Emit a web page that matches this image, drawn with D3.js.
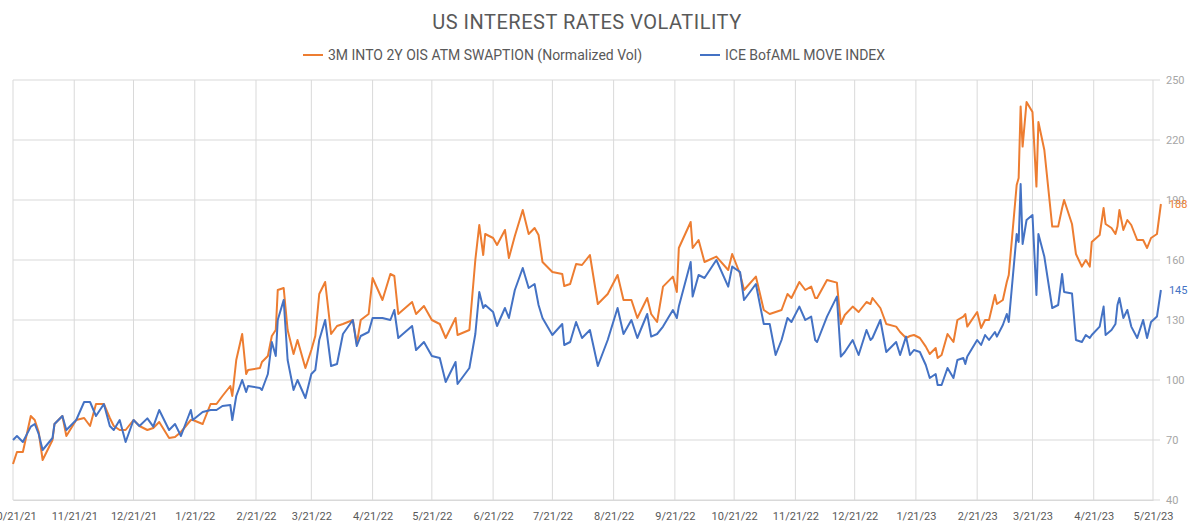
<!DOCTYPE html>
<html lang="en">
<head>
<meta charset="UTF-8" />
<title>US Interest Rates Volatility</title>
<style>
  body { margin: 0; background: #fff; }
  text { font-family: Roboto, "Noto Sans", sans-serif; }
</style>
</head>
<body>
<svg width="1200" height="528"></svg>
<script src="https://cdn.jsdelivr.net/npm/d3@7"></script>
<script>
// days since 10/21/21
const startDate = new Date(2021, 9, 21);
const dayOffsets = [0,2,5,9,11,13,15,20,21,25,27,32,36,39,42,46,49,51,54,57,61,64,68,71,74,79,82,85,90,91,96,100,103,106,110,111,113,116,118,119,125,126,129,131,133,134,137,139,142,144,148,151,153,155,158,161,164,167,172,174,176,180,182,187,191,193,195,
202,204,208,212,216,219,224,225,231,234,236,238,239,243,245,249,251,254,258,261,264,266,268,273,278,279,282,285,288,292,296,301,306,309,313,316,321,323,326,329,334,336,337,343,344,347,350,356,362,364,368,370,376,380,383,386,389,392,394,398,
401,404,406,407,412,417,419,421,425,428,432,434,435,439,442,447,449,452,454,456,459,462,464,467,468,470,473,476,478,481,482,483,488,490,492,494,497,498,501,503,504,508,509,510,511,513,516,518,519,522,526,529,531,532,536,538,541,543,545,546,550,552,553,556,558,559,560,562,564,566,569,572,574,576,579,581];
const swaptionVol = [58,64,64,82,80,74,60,70,78,82,72,80,81,77,88,88,81,77,75,75,80,77,75,76,79,71,71.5,74,80,80,78,88,88,92,97,92,110,123,103,105,106,109,112,122,125,145,146,125,113,120,106,115,122,143,149,123,127,128,130,118,130,133,151,140,153,152,133,
139,133,137,130,128,121,131,122.5,125,160,177.5,162.5,173,171,167.5,175,161,172,185,173,176,172.5,159,154,153,147,148,158,157.5,162.5,138,143,152.5,140,140,131,141,133,129,146.7,151.7,144,166,179,166,170,159,161.7,155,163,153,145,151.7,135,133,134,135,143,141,149,
145,146.7,141,141,150,148.7,128,132.5,136.7,134,139,138,141,136,128,126.7,124,121,122,122.5,121,116.7,113,116,111,112.5,123,119,130,131.7,133,126.7,134,126,130,130,142.5,138,140,149,152.5,197.5,201,236.7,216.7,239,234,196.7,229,215,176.7,176.7,186,190,178,163,156.7,160,156.7,169,172.5,186,178,176,173,176.7,185,175,180,177.5,170,170,166,171,173,188];
const moveIndex = [70,72,69,76.7,78,73,65,71,78,82,75,80,89,89,82,88,77,75,80,69,80,77,80.8,76.7,85,75,78,72,85,80,84,85,85,87,87.5,80,92,100,94,97,96,95,103,119,112,130,140,110,95,100,91,103,105,120,130,107,108,123,130,117,122,124,131,131,130,135,121,
127,115,119,112,111,99,109,98,106,123,144,136,137.5,134,127,136,131,145,156,146,148,137.5,131,122.5,128,117.5,119,129,121,125,107,120,136,123,130,121,133,121.7,123,126.7,135,131,136.7,159,141.7,152.5,151,160,146.7,156.7,154,140,148,128,128,112.5,120,131,129,136.7,
130,131.7,120,119,131.7,141.7,111.7,114,120,112.5,125,120,121,130,114,119,112.5,121.7,112.5,115,114,107.5,101,103,97.5,97.5,106,101,110,111,108,111.7,120,117.5,122.5,120,124,121.7,127.5,133,129,173,169,198,168,180,182.5,142.5,173,161.7,136,137.5,153,144,143.3,120,119,122.5,121,122.5,126.7,136.7,122.5,125,128,137.5,141,131,135,126.7,121,130,121,129,131.7,145];
const seriesNames = ["3M INTO 2Y OIS ATM SWAPTION (Normalized Vol)", "ICE BofAML MOVE INDEX"];
const seriesColors = ["#ED7D31", "#4472C4"];
const yTicks = [40, 70, 100, 130, 160, 190, 220, 250];

const dates = dayOffsets.map(d => d3.timeDay.offset(startDate, d));
const tickDates = d3.range(0, 20).map(m => new Date(2021, 9 + m, 21));

const svg = d3.select("svg");
const plotLeft = 13, plotRight = 1160, plotTop = 80, plotBottom = 500;

const x = d3.scaleTime()
  .domain([startDate, new Date(2023, 4, 21)])
  .range([plotLeft, 1153]);
const y = d3.scaleLinear().domain([40, 250]).range([plotBottom, plotTop]);

// title
svg.append("text")
  .attr("x", 587).attr("y", 29)
  .attr("text-anchor", "middle")
  .attr("fill", "#595959")
  .style("font-size", "20px")
  .style("letter-spacing", "0.5px")
  .text("US INTEREST RATES VOLATILITY");

// legend
const legendX = [303, 700];
seriesNames.forEach((name, i) => {
  const g = svg.append("g").attr("transform", `translate(${legendX[i]},55)`);
  g.append("line").attr("x1", 0).attr("x2", 20).attr("y1", 0).attr("y2", 0)
    .attr("stroke", seriesColors[i]).attr("stroke-width", 2);
  g.append("text").attr("x", 25).attr("y", 5)
    .attr("fill", "#595959").style("font-size", "14px").text(name);
});

// grid
svg.append("g").selectAll("line").data(yTicks).join("line")
  .attr("x1", plotLeft).attr("x2", plotRight)
  .attr("y1", d => y(d)).attr("y2", d => y(d))
  .attr("stroke", "#d9d9d9");
svg.append("g").selectAll("line").data(tickDates).join("line")
  .attr("x1", d => x(d)).attr("x2", d => x(d))
  .attr("y1", plotTop).attr("y2", plotBottom)
  .attr("stroke", "#d9d9d9");

// right axis
const yAxis = svg.append("g")
  .attr("transform", `translate(${plotRight},0)`)
  .call(d3.axisRight(y).tickValues(yTicks).tickSize(0).tickPadding(6));
yAxis.select(".domain").remove();
yAxis.selectAll("text").attr("fill", "#a6a6a6").style("font-size", "11px");

// bottom axis
const xAxis = svg.append("g")
  .attr("transform", `translate(0,${plotBottom})`)
  .call(d3.axisBottom(x).tickValues(tickDates).tickSize(0).tickPadding(12)
    .tickFormat(d3.timeFormat("%-m/%-d/%y")));
xAxis.select(".domain").attr("stroke", "#d9d9d9");
xAxis.selectAll("text").attr("fill", "#595959").style("font-size", "11px");

// lines
const line = d3.line().x((d, i) => x(dates[i])).y(d => y(d));
[swaptionVol, moveIndex].forEach((s, i) => {
  svg.append("path").datum(s)
    .attr("fill", "none")
    .attr("stroke", seriesColors[i])
    .attr("stroke-width", 2)
    .attr("stroke-linejoin", "round")
    .attr("d", line);
  const last = s[s.length - 1];
  svg.append("text")
    .attr("x", x(dates[dates.length - 1]) + 8)
    .attr("y", y(last) + 4)
    .attr("fill", seriesColors[i])
    .style("font-size", "11px")
    .text(Math.round(last));
});
</script>
</body>
</html>
